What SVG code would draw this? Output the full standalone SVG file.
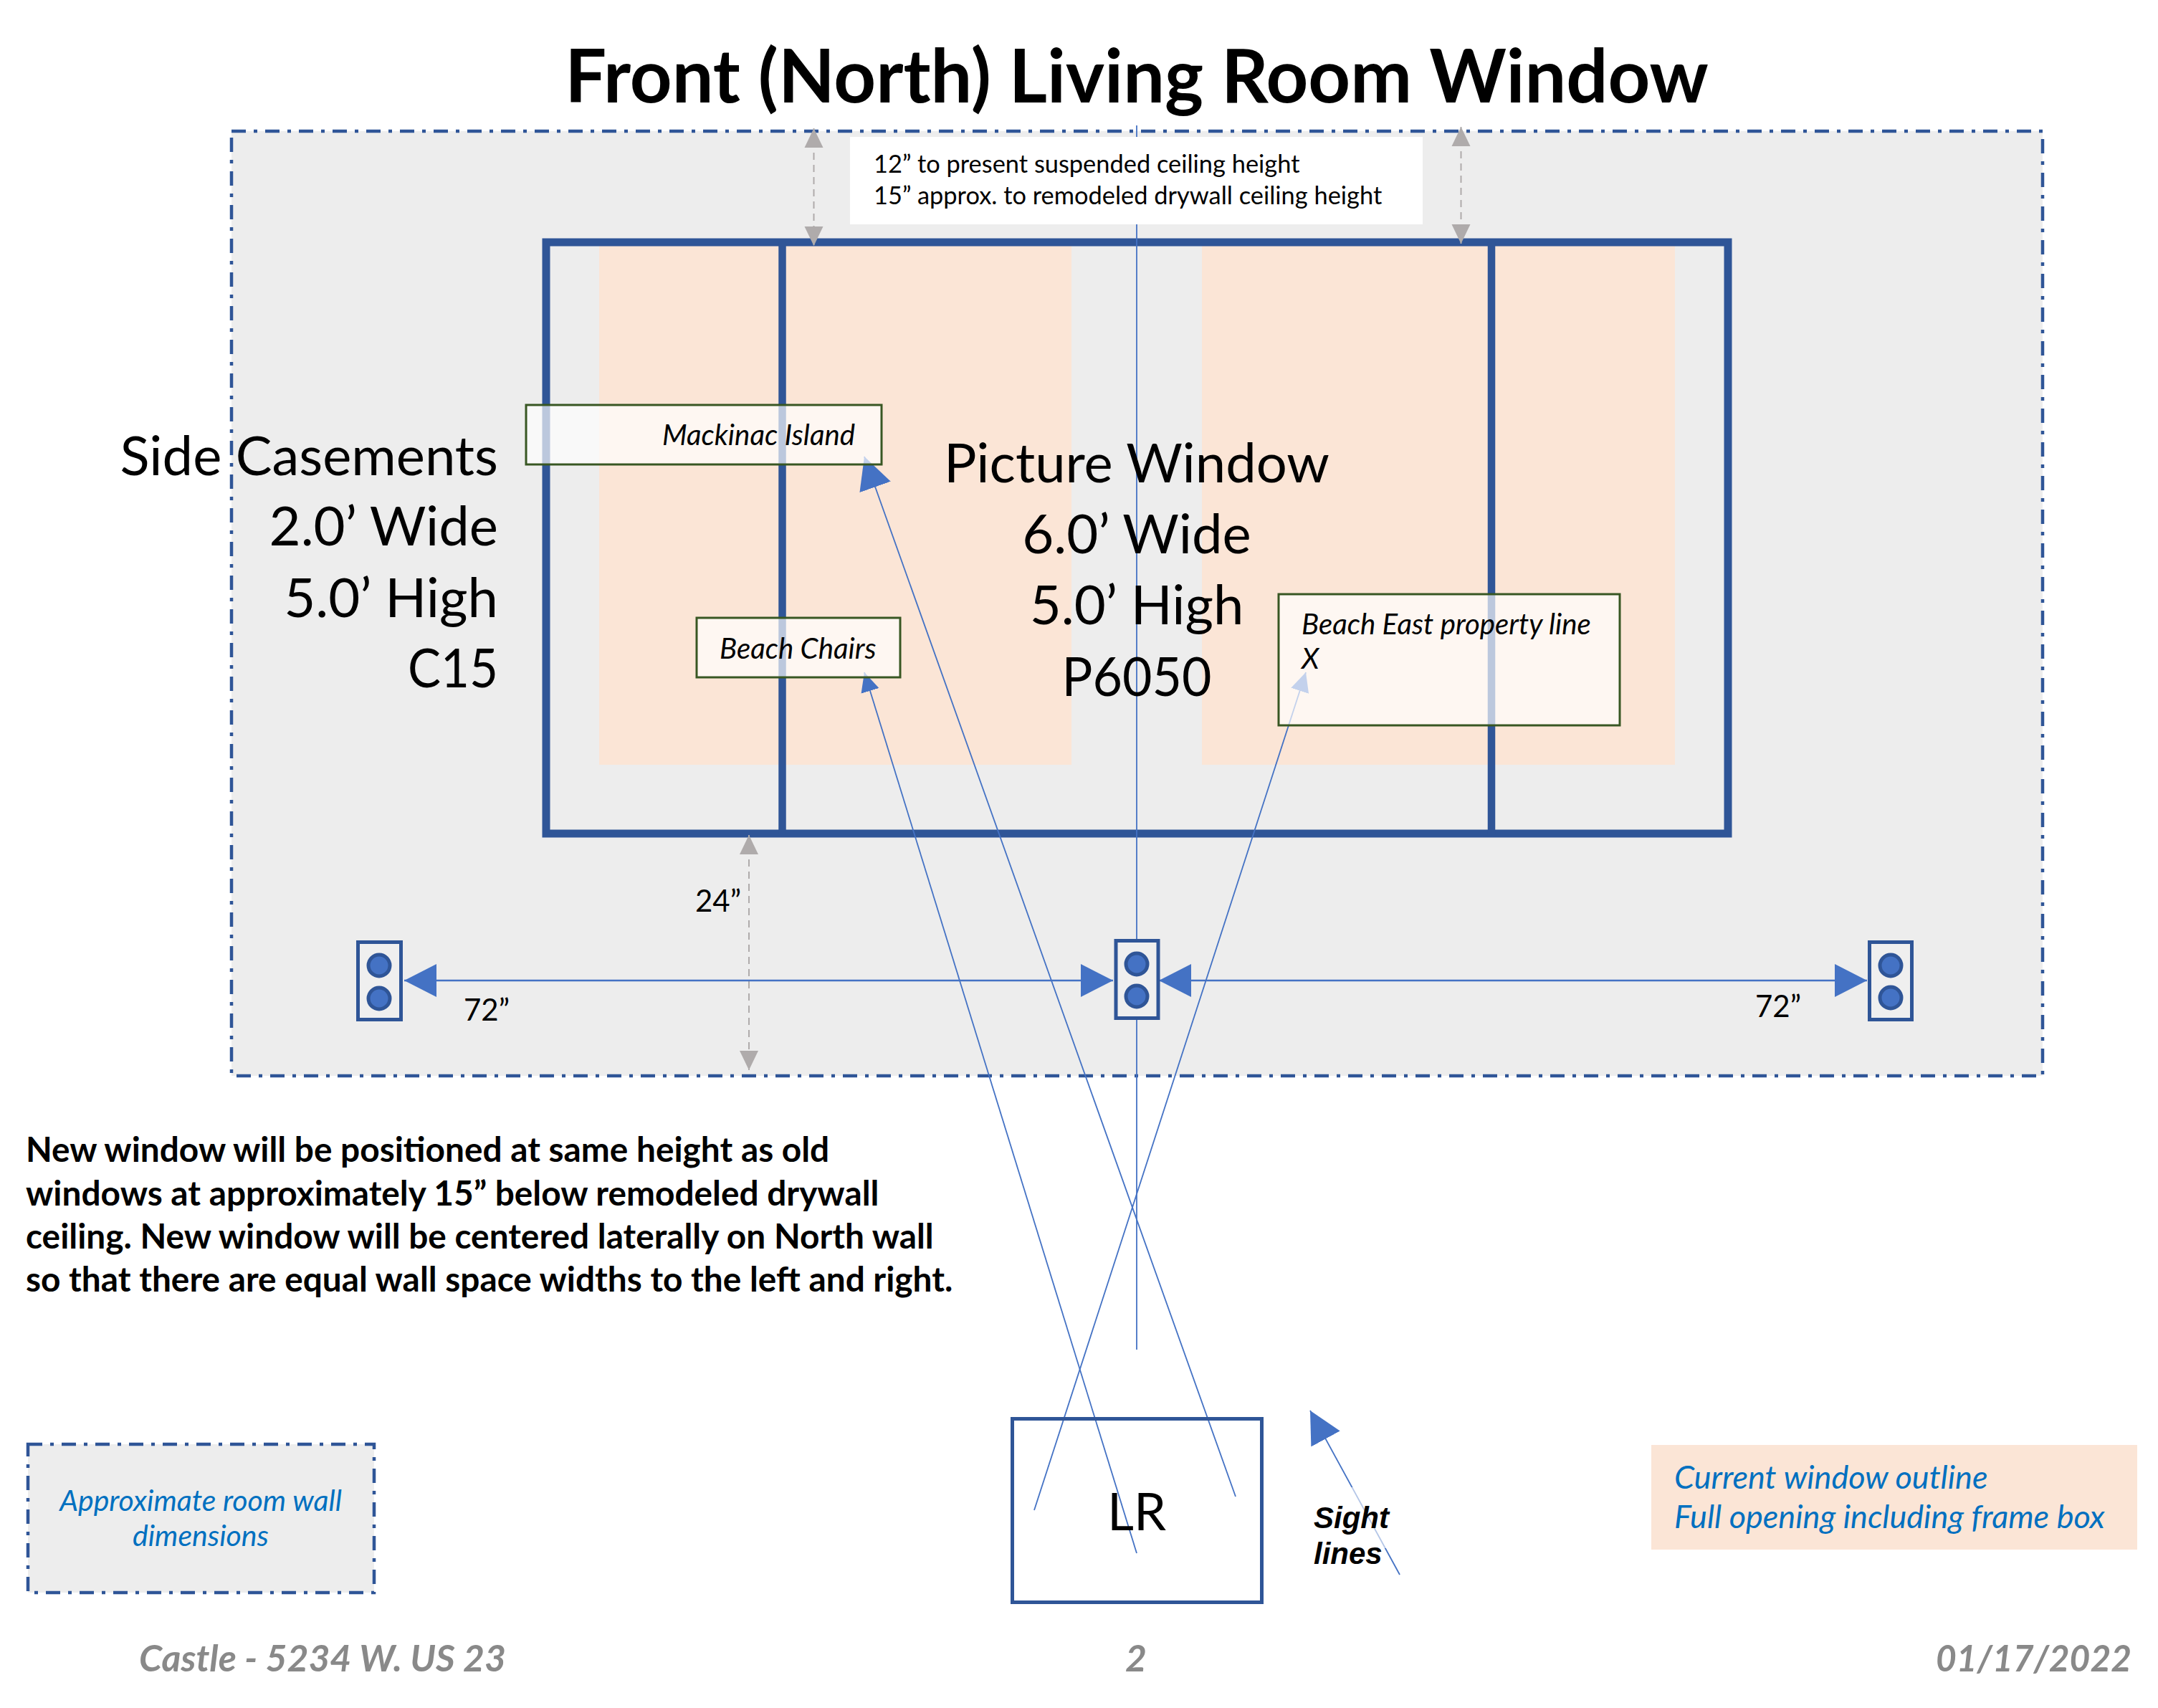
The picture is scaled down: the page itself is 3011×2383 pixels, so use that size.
<svg xmlns="http://www.w3.org/2000/svg" width="3011" height="2383" viewBox="0 0 3011 2383">
<style>
text{font-family:"Lato","Liberation Sans",sans-serif;fill:#000}
.big{font-size:76px}
.mid{font-size:34.400px}
.dl{font-size:42px}
.lab{font-size:40.200px;font-style:italic}
.bold{font-size:47.800px;font-weight:700}
.leg{font-size:41px;font-style:italic;fill:#0070C0}
.leg2{font-size:45px;font-style:italic;fill:#0070C0}
.foot{font-size:51.700px;font-weight:700;font-style:italic;fill:#898989}
.sl{stroke:#4472C4;stroke-width:1.8;fill:none}
.dim{stroke:#AFABAB;stroke-width:2;stroke-dasharray:10 7;fill:none;marker-start:url(#gh);marker-end:url(#gh)}
.hz{stroke:#4472C4;stroke-width:2.5;fill:none;marker-start:url(#bh);marker-end:url(#bh)}
.out{fill:#EFEFEF;stroke:#2F5597;stroke-width:5}
.dot{fill:#4472C4;stroke:#2F5597;stroke-width:5}
.tag{fill:#fff;fill-opacity:.68;stroke:#385723;stroke-width:3}
.dd{fill:#EDEDED;stroke:#2F5597;stroke-width:4.500;stroke-dasharray:20 11 5 11}
</style>
<defs>
<marker id="bh" markerUnits="userSpaceOnUse" markerWidth="46" markerHeight="48" refX="45" refY="24" orient="auto-start-reverse"><path d="M0 1L45 24L0 47Z" fill="#4472C4"/></marker>
<marker id="sh" markerUnits="userSpaceOnUse" markerWidth="28" markerHeight="28" refX="27" refY="14" orient="auto"><path d="M0 1L27 14L0 27Z" fill="#4472C4"/></marker>
<marker id="gh" markerUnits="userSpaceOnUse" markerWidth="28" markerHeight="28" refX="27" refY="14" orient="auto-start-reverse"><path d="M0 1L27 14L0 27Z" fill="#AFABAB"/></marker>
</defs>
<g id="title"><text x="1586" y="143" text-anchor="middle" font-size="102.500" font-weight="700">Front (North) Living Room Window</text></g>
<g id="room"><rect class="dd" x="323" y="183" width="2527" height="1318"/></g>
<g id="current-window"><rect x="836" y="343" width="659" height="724" fill="#FBE5D6"/><rect x="1677" y="343" width="660" height="724" fill="#FBE5D6"/></g>
<g id="window-frame"><rect x="762" y="338" width="1649" height="825" fill="none" stroke="#2F5597" stroke-width="11"/><path d="M1091.500 338V1163M2081 338V1163" stroke="#2F5597" stroke-width="10.500" fill="none"/></g>
<g id="connectors">
<line class="sl" x1="1586" y1="175" x2="1586" y2="1883"/>
<line class="sl" x1="1724" y1="2088" x2="1206" y2="637" marker-end="url(#bh)"/>
<line class="sl" x1="1586" y1="2167" x2="1206" y2="938" marker-end="url(#sh)"/>
<line class="sl" x1="1443" y1="2107" x2="1822" y2="938" marker-end="url(#sh)"/>
<line class="sl" x1="1953" y1="2197" x2="1828" y2="1968" marker-end="url(#bh)"/>
<line class="dim" x1="1135.500" y1="179" x2="1135.500" y2="343"/>
<line class="dim" x1="2038.500" y1="177" x2="2038.500" y2="340"/>
<line class="dim" x1="1045" y1="1165" x2="1045" y2="1493"/>
<line class="hz" x1="564" y1="1368" x2="1553" y2="1368"/>
<line class="hz" x1="1617" y1="1368" x2="2605" y2="1368"/>
</g>
<g id="ceiling-note"><rect x="1186" y="191" width="799" height="122" fill="#fff"/><text class="mid" x="1219" y="241">12” to present suspended ceiling height</text><text class="mid" x="1219" y="285">15” approx. to remodeled drywall ceiling height</text></g>
<g id="side-casements" text-anchor="end"><text class="big" x="695" y="663">Side Casements</text><text class="big" x="695" y="761">2.0’ Wide</text><text class="big" x="695" y="861">5.0’ High</text><text class="big" x="695" y="959" textLength="126" lengthAdjust="spacingAndGlyphs">C15</text></g>
<g id="picture-window" text-anchor="middle"><text class="big" x="1586" y="673">Picture Window</text><text class="big" x="1586" y="772">6.0’ Wide</text><text class="big" x="1586" y="871">5.0’ High</text><text class="big" x="1586" y="971" textLength="209" lengthAdjust="spacingAndGlyphs">P6050</text></g>
<g id="mackinac"><rect class="tag" x="734" y="565" width="496" height="83"/><text class="lab" x="924" y="621">Mackinac Island</text></g>
<g id="beach-chairs"><rect class="tag" x="972" y="862" width="284" height="83"/><text class="lab" x="1004" y="919">Beach Chairs</text></g>
<g id="beach-east"><rect class="tag" x="1784" y="829" width="476" height="183"/><text class="lab" x="1816" y="885">Beach East property line</text><text class="lab" x="1816" y="933">X</text></g>
<g id="outlet-left"><rect class="out" x="499.500" y="1314.500" width="60" height="108"/><circle class="dot" cx="529" cy="1347" r="15"/><circle class="dot" cx="529" cy="1393" r="15"/></g>
<g id="outlet-center"><rect class="out" x="1557" y="1312.500" width="59" height="108"/><circle class="dot" cx="1586" cy="1345" r="15"/><circle class="dot" cx="1586" cy="1390" r="15"/></g>
<g id="outlet-right"><rect class="out" x="2608.500" y="1314.500" width="59" height="108"/><circle class="dot" cx="2638" cy="1347" r="15"/><circle class="dot" cx="2638" cy="1392" r="15"/></g>
<g id="dim-labels"><text class="dl" x="970" y="1272">24”</text><text class="dl" x="647" y="1424">72”</text><text class="dl" x="2449" y="1419">72”</text></g>
<g id="description"><text class="bold" x="36" y="1621">New window will be positioned at same height as old</text><text class="bold" x="36" y="1682">windows at approximately 15” below remodeled drywall</text><text class="bold" x="36" y="1742">ceiling. New window will be centered laterally on North wall</text><text class="bold" x="36" y="1802">so that there are equal wall space widths to the left and right.</text></g>
<g id="lr"><rect x="1412.500" y="1979.500" width="348" height="256" fill="none" stroke="#2F5597" stroke-width="5"/><text x="1586" y="2135" text-anchor="middle" font-size="72">LR</text></g>
<g id="sight-lines"><rect x="1820" y="2075" width="200" height="85" fill="#fff" fill-opacity=".6"/><text x="1833" y="2132" font-size="42" font-weight="700" font-style="italic" style="font-family:'Liberation Sans',sans-serif">Sight</text><text x="1833" y="2182" font-size="42" font-weight="700" font-style="italic" style="font-family:'Liberation Sans',sans-serif">lines</text></g>
<g id="legend-room"><rect class="dd" x="39" y="2015" width="483" height="207"/><text class="leg" x="280" y="2108" text-anchor="middle">Approximate room wall</text><text class="leg" x="280" y="2157" text-anchor="middle">dimensions</text></g>
<g id="legend-window"><rect x="2304" y="2016" width="678" height="146" fill="#FBE5D6"/><text class="leg2" x="2336" y="2077">Current window outline</text><text class="leg2" x="2336" y="2132">Full opening including frame box</text></g>
<g id="footer"><text class="foot" x="194" y="2332">Castle - 5234 W. US 23</text><text class="foot" x="1585" y="2332" text-anchor="middle">2</text><text class="foot" x="2974" y="2332" text-anchor="end" textLength="273" lengthAdjust="spacingAndGlyphs">01/17/2022</text></g>
</svg>
